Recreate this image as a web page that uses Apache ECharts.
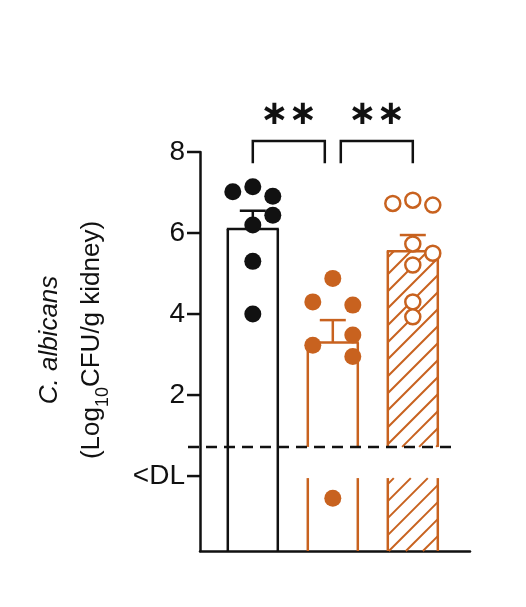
<!DOCTYPE html>
<html>
<head>
<meta charset="UTF-8">
<script src="https://cdn.jsdelivr.net/npm/echarts@6/dist/echarts.min.js"></script>
<style>
  html, body { margin: 0; padding: 0; background: #fff; }
  #chart { width: 526px; height: 607px; }
</style>
</head>
<body>
<div id="chart"></div>
<script>
var groupX = [0.66, 1.66, 2.66];
var means = [6.1, 3.3, 5.55];
var errTop = [6.55, 3.85, 5.95];
var broken = [false, true, true];
var hatched = [false, false, true];
var groupColors = ['#111111', '#c8621f', '#c8621f'];
// points: [offset step, value]
var blackPts = [[-1, 7.02], [0, 7.14], [1, 6.91], [1, 6.44], [0, 6.2], [0, 5.3], [0, 4.0]];
var orangePts = [[0, 4.88], [-1, 4.3], [1, 4.22], [-1, 3.23], [1, 3.48], [1, 2.95], [0, -0.55]];
var hatchPts = [[-1, 6.73], [0, 6.81], [1, 6.69], [0, 5.73], [1, 5.5], [0, 5.21], [0, 4.3], [0, 3.93]];
var tickVals = [8, 6, 4, 2, 0];
var tickLabels = ['8', '6', '4', '2', '<DL'];
var dlLine = 0.72;
var brackets = [[0.66, 1.56], [1.76, 2.66]];
var bracketTop = 8.27, bracketLeg = 7.72, starY = 8.9;
var yMin = -1.85, yMax = 8, xMax = 3.375;
var orange = '#c8621f';

function pts(arr, g) {
  return arr.map(function (p) { return [groupX[g] + p[0] * 0.25, p[1]]; });
}

function hatchLines(x0, y0, x1, y1, color) {
  var out = [], step = 17;
  for (var c = x0 + y0 + 6; c < x1 + y1; c += step) {
    var a = [];
    var cand = [[c - y0, y0], [c - y1, y1], [x0, c - x0], [x1, c - x1]];
    cand.forEach(function (p) {
      if (p[0] >= x0 - 0.01 && p[0] <= x1 + 0.01 && p[1] >= y0 - 0.01 && p[1] <= y1 + 0.01) a.push(p);
    });
    if (a.length >= 2) {
      a.sort(function (m, n) { return m[0] - n[0]; });
      out.push({ type: 'line', shape: { x1: a[0][0], y1: a[0][1], x2: a[a.length - 1][0], y2: a[a.length - 1][1] },
        style: { stroke: color, lineWidth: 2 } });
    }
  }
  return out;
}

var chart = echarts.init(document.getElementById('chart'));
chart.setOption({
  animation: false,
  grid: { left: 200, right: 56, top: 152, bottom: 56 },
  xAxis: { type: 'value', min: 0, max: xMax, axisLine: { show: true, onZero: false, lineStyle: { color: '#111', width: 2.5 } },
    axisTick: { show: false }, axisLabel: { show: false }, splitLine: { show: false } },
  yAxis: { type: 'value', min: yMin, max: yMax, axisLine: { show: true, onZero: false, lineStyle: { color: '#111', width: 2.5 } },
    axisTick: { show: false }, axisLabel: { show: false }, splitLine: { show: false } },
  graphic: [
    { type: 'text', x: 50, y: 340, rotation: Math.PI / 2, style: { text: 'C. albicans', font: 'italic 26px Liberation Sans', fill: '#111', align: 'center', verticalAlign: 'middle' } },
    { type: 'text', x: 92, y: 340, rotation: Math.PI / 2, style: {
      text: '(Log{s|10}CFU/g kidney)', font: '26px Liberation Sans', fill: '#111', align: 'center', verticalAlign: 'middle',
      rich: { s: { fontSize: 18, fontFamily: 'Liberation Sans', padding: [22, 0, 0, 0] } } } }
  ],
  series: [
    { type: 'custom', z: 1, data: groupX.map(function (x, i) { return [x, means[i], i]; }),
      renderItem: function (params, api) {
        var i = api.value(2), c = groupColors[i];
        var l = api.coord([api.value(0), 0])[0] - 25, r = l + 50;
        var top = api.coord([0, api.value(1)])[1];
        var bot = api.coord([0, yMin])[1];
        var bTop = api.coord([0, dlLine])[1], bBot = api.coord([0, -0.05])[1];
        var ch = [];
        var segs = broken[i] ? [[top, bTop], [bBot, bot]] : [[top, bot]];
        segs.forEach(function (s) {
          ch.push({ type: 'line', shape: { x1: l, y1: s[0], x2: l, y2: s[1] }, style: { stroke: c, lineWidth: 2.5 } });
          ch.push({ type: 'line', shape: { x1: r, y1: s[0], x2: r, y2: s[1] }, style: { stroke: c, lineWidth: 2.5 } });
          if (hatched[i]) ch = ch.concat(hatchLines(l, s[0], r, s[1], c));
        });
        ch.push({ type: 'line', shape: { x1: l - 1, y1: top, x2: r + 1, y2: top }, style: { stroke: c, lineWidth: 2.5 } });
        return { type: 'group', children: ch };
      } },
    { type: 'custom', z: 2, data: groupX.map(function (x, i) { return [x, means[i], errTop[i], i]; }),
      renderItem: function (params, api) {
        var c = groupColors[api.value(3)];
        var p0 = api.coord([api.value(0), api.value(1)]), p1 = api.coord([api.value(0), api.value(2)]);
        return { type: 'group', children: [
          { type: 'line', shape: { x1: p0[0], y1: p0[1], x2: p1[0], y2: p1[1] }, style: { stroke: c, lineWidth: 2.5 } },
          { type: 'line', shape: { x1: p1[0] - 13, y1: p1[1], x2: p1[0] + 13, y2: p1[1] }, style: { stroke: c, lineWidth: 2.5 } }
        ] };
      } },
    { type: 'scatter', z: 5, symbolSize: 17, data: pts(blackPts, 0), itemStyle: { color: '#111', opacity: 1 } },
    { type: 'scatter', z: 5, symbolSize: 17, data: pts(orangePts, 1), itemStyle: { color: orange, opacity: 1 } },
    { type: 'scatter', z: 5, symbolSize: 15, data: pts(hatchPts, 2), itemStyle: { color: '#fff', borderColor: orange, borderWidth: 2.5, opacity: 1 } },
    { type: 'custom', z: 3, clip: false, data: [[0]],
      renderItem: function (params, api) {
        var ch = [];
        var y = api.coord([0, dlLine])[1];
        ch.push({ type: 'line', shape: { x1: 188, y1: y, x2: 456, y2: y }, style: { stroke: '#111', lineWidth: 2.5, lineDash: [11, 7] } });
        tickVals.forEach(function (v, k) {
          var p = api.coord([0, v]);
          ch.push({ type: 'line', shape: { x1: p[0] - 13, y1: p[1], x2: p[0], y2: p[1] }, style: { stroke: '#111', lineWidth: 2.5 } });
          ch.push({ type: 'text', x: p[0] - 15, y: p[1], style: { text: tickLabels[k], font: '28px Liberation Sans', fill: '#111', align: 'right', verticalAlign: 'middle' } });
        });
        brackets.forEach(function (b) {
          var a = api.coord([b[0], bracketTop]), e = api.coord([b[1], bracketLeg]);
          ch.push({ type: 'polyline', shape: { points: [[a[0], e[1]], [a[0], a[1]], [e[0], a[1]], [e[0], e[1]]] }, style: { stroke: '#111', lineWidth: 2.5, fill: null } });
          var s = api.coord([(b[0] + b[1]) / 2, starY]);
          ch.push({ type: 'text', x: s[0], y: s[1], style: { text: '∗∗', font: 'bold 34px DejaVu Sans', fill: '#111', align: 'center', verticalAlign: 'middle' } });
        });
        return { type: 'group', children: ch };
      } }
  ]
});
</script>
</body>
</html>
